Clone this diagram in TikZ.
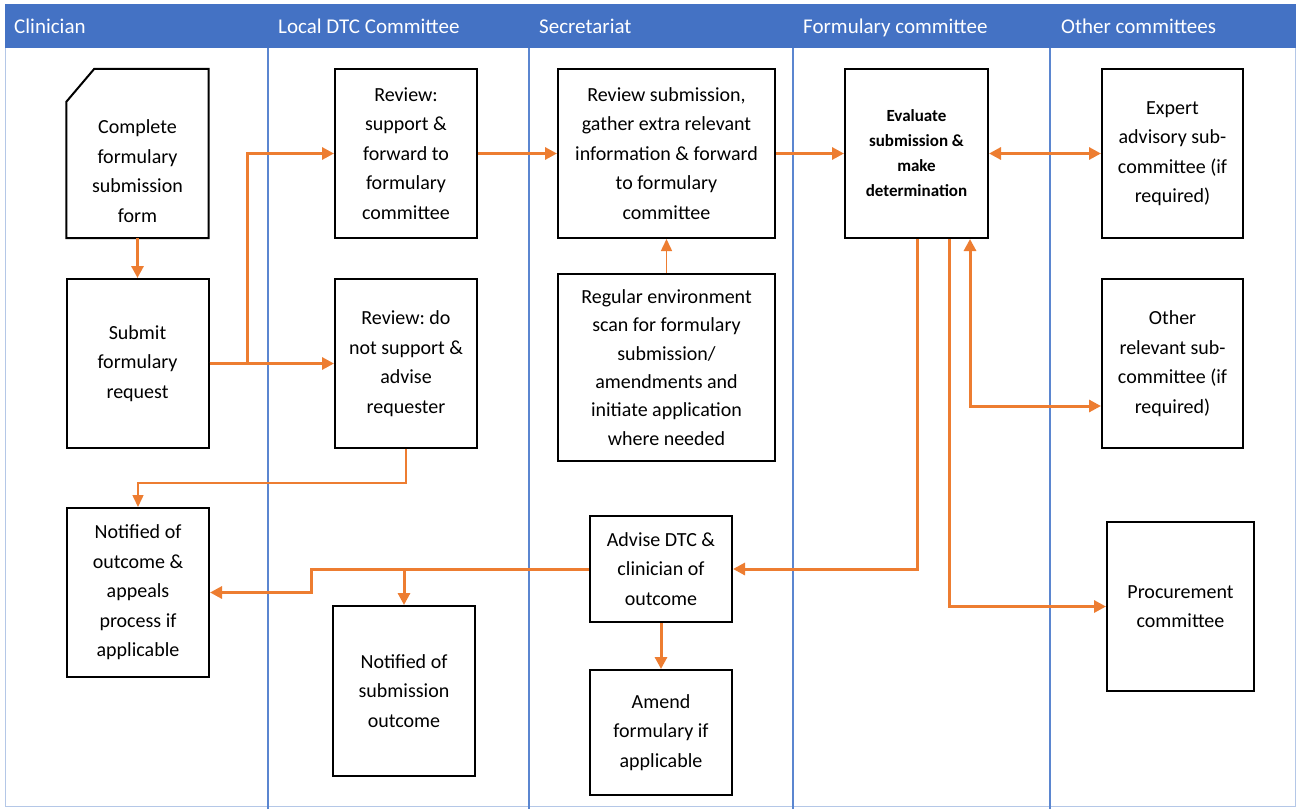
\documentclass[tikz,border=0pt]{standalone}
\usepackage{fontspec}
\setmainfont{Carlito}
\frenchspacing
\usetikzlibrary{arrows.meta,calc}
\definecolor{orng}{HTML}{ED7D31}
\definecolor{hdrblue}{HTML}{4472C4}
\definecolor{lanblue}{HTML}{5B86D0}
\definecolor{frmblue}{HTML}{B4C7E7}
\tikzset{
  box/.style={draw=black, line width=2pt, fill=white, align=center, inner sep=2pt,
    font=\fontsize{20}{29.5}\selectfont},
  boldbox/.style={box, font=\fontsize{17}{25}\selectfont\bfseries},
  arr/.style={draw=orng, line width=3pt, -{Triangle[length=12pt,width=12pt]}},
  darr/.style={draw=orng, line width=3pt, {Triangle[length=12pt,width=12pt]}-{Triangle[length=12pt,width=12pt]}},
  tarr/.style={draw=orng, line width=1.5pt, -{Triangle[length=12pt,width=11pt]}},
  hdr/.style={anchor=base west, text=white, font=\fontsize{21}{24}\selectfont, inner sep=0pt},
  lane/.style={draw=lanblue, line width=1.5pt}
}
\begin{document}
\begin{tikzpicture}[x=1pt,y=-1pt]
\useasboundingbox (0,0) rectangle (1296,809);
\fill[white] (0,0) rectangle (1296,809);
\draw[frmblue, line width=1pt] (5,4) rectangle (1295,806);
% header
\fill[hdrblue] (5,4) rectangle (1296,48);
\node[hdr] (h1) at (14,33) {Clinician};
\node[hdr] (h2) at (278,33) {Local DTC Committee};
\node[hdr] (h3) at (539,33) {Secretariat};
\node[hdr] (h4) at (803,33) {Formulary committee};
\node[hdr] (h5) at (1061,33) {Other committees};
% lanes
\foreach \xx in {268,529,793,1050}{\draw[lane] (\xx,48) -- (\xx,809);}
% boxes
\node[draw=none, minimum width=142pt, minimum height=169pt, inner sep=0pt] (form) at (137.5,153.5) {};
\draw[black, line width=2pt, fill=white] ($(form.north west)+(0,33)$) -- ($(form.north west)+(28,0)$) -- (form.north east) -- (form.south east) -- (form.south west) -- cycle;
\node[align=center, font=\fontsize{20}{29.5}\selectfont] (formtxt) at (137.5,171) {Complete\\formulary\\submission\\form};
\node[box, minimum width=142pt, minimum height=169pt] (submit) at (137.5,363.5) {Submit\\formulary\\request};
\node[box, minimum width=142pt, minimum height=169pt] (notif1) at (138,592.5) {Notified of\\outcome \&\\appeals\\process if\\applicable};
\node[box, minimum width=142pt, minimum height=169pt] (review1) at (406,153.5) {Review:\\support \&\\forward to\\formulary\\committee};
\node[box, minimum width=142pt, minimum height=169pt] (review2) at (406,363.5) {Review: do\\not support \&\\advise\\requester};
\node[box, minimum width=142pt, minimum height=170pt] (notif2) at (404,691) {Notified of\\submission\\outcome};
\node[box, minimum width=217pt, minimum height=169pt] (revsub) at (666.5,153.5) {Review submission,\\gather extra relevant\\information \& forward\\to formulary\\committee};
\node[box, minimum width=217pt, minimum height=187pt, font=\fontsize{20}{28.4}\selectfont] (scan) at (666.5,367.5) {Regular environment\\scan for formulary\\submission/\\amendments and\\initiate application\\where needed};
\node[box, minimum width=142pt, minimum height=106pt] (advise) at (661,569) {Advise DTC \&\\clinician of\\outcome};
\node[box, minimum width=142pt, minimum height=125pt] (amend) at (661,732.5) {Amend\\formulary if\\applicable};
\node[boldbox, minimum width=143pt, minimum height=169pt] (eval) at (916.5,153.5) {Evaluate\\submission \&\\make\\determination};
\node[box, minimum width=141pt, minimum height=169pt] (expert) at (1172.5,153.5) {Expert\\advisory sub-\\committee (if\\required)};
\node[box, minimum width=141pt, minimum height=169pt] (other) at (1172.5,363.5) {Other\\relevant sub-\\committee (if\\required)};
\node[box, minimum width=147pt, minimum height=169pt] (proc) at (1180.5,606.5) {Procurement\\committee};
% connectors
\draw[arr] (form.south) -- (submit.north);
\draw[arr] (submit.east) -- (review2.west);
\draw[arr] (submit.east) -- ++(38,0) |- (review1.west);
\draw[tarr] (review2.south) -- ++(0,34) -| (notif1.north);
\draw[arr] (review1.east) -- (revsub.west);
\draw[tarr] (scan.north -| revsub.south) -- (revsub.south);
\draw[arr] (revsub.east) -- (eval.west);
\draw[darr] (eval.east) -- (expert.west);
\draw[darr] ($(eval.south)+(53.5,0)$) |- ($(other.west)+(0,42.5)$);
\draw[arr] ($(eval.south)+(0.5,0)$) |- (advise.east);
\draw[arr] ($(eval.south)+(32.5,0)$) |- (proc.west);
\draw[arr] (advise.west) -- ++(-278,0) |- (notif1.east);
\draw[arr] (notif2.north |- advise.west) -- (notif2.north);
\draw[arr] (advise.south) -- (amend.north);
\end{tikzpicture}
\end{document}
